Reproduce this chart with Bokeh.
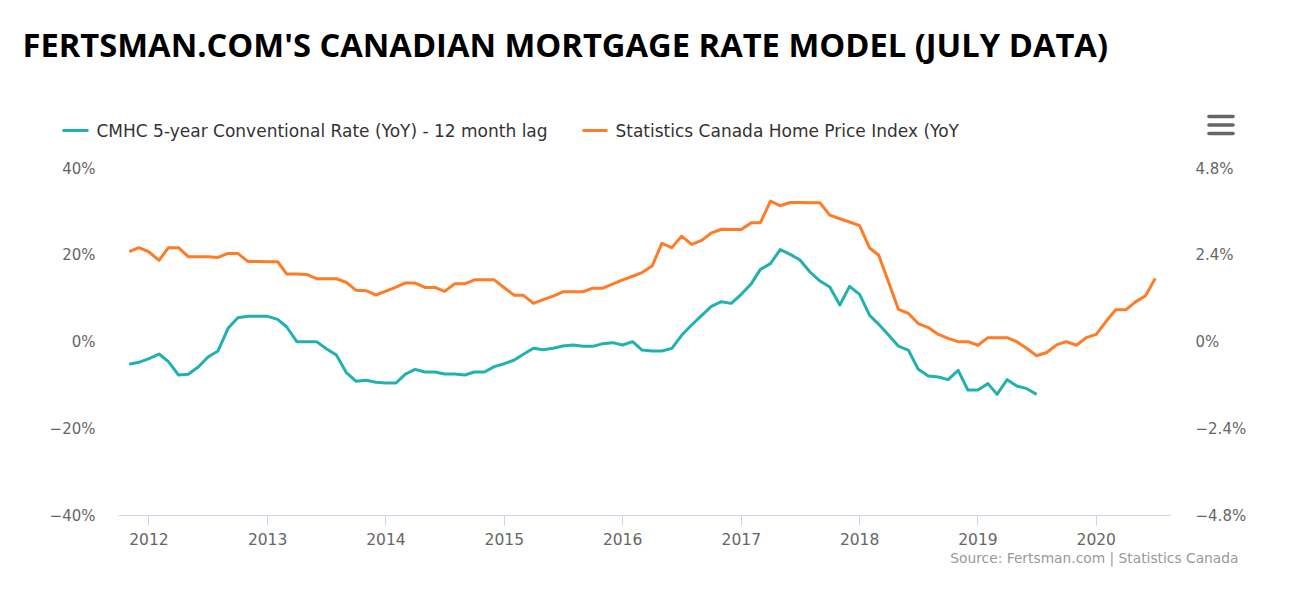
import pandas as pd
from bokeh.plotting import figure
from bokeh.layouts import column
from bokeh.models import (Range1d, LinearAxis, FixedTicker, CustomJSTickFormatter,
                          DatetimeTickFormatter, ColumnDataSource, Title)
from bokeh.core.properties import value
from bokeh.embed import file_html
from bokeh.resources import INLINE

# ---------------- data ----------------
series_start = "2011-11-01"
cmhc_name = "CMHC 5-year Conventional Rate (YoY) - 12 month lag"
cmhc_rate_yoy = [
    -5.15, -4.69,
    -3.84, -2.77, -4.53, -7.61, -7.45, -5.76, -3.46, -2.07, 3.15, 5.61, 5.92, 5.92,
    5.92, 5.23, 3.46, 0.08, 0.08, 0.08, -1.54, -3.00, -7.07, -9.07, -8.84, -9.30,
    -9.45, -9.45, -7.45, -6.30, -6.92, -6.92, -7.38, -7.38, -7.61, -6.92, -6.92, -5.69,
    -5.00, -4.15, -2.84, -1.46, -1.77, -1.46, -0.92, -0.69, -1.00, -1.00, -0.38, -0.15,
    -0.69, 0.08, -1.85, -2.07, -2.07, -1.46, 1.54, 3.92, 6.15, 8.22, 9.30, 8.91,
    10.99, 13.45, 16.75, 18.06, 21.29, 20.21, 18.91, 16.14, 14.06, 12.68, 8.53, 12.83,
    10.99, 6.15, 4.07, 1.54, -0.96, -1.92, -6.30, -7.84, -8.07, -8.68, -6.53, -11.07,
    -11.07, -9.60, -12.07, -8.68, -10.14, -10.76, -12.07,
]
hpi_name = "Statistics Canada Home Price Index (YoY"
hpi_yoy = [
    2.50, 2.61,
    2.49, 2.26, 2.61, 2.61, 2.36, 2.36, 2.36, 2.34, 2.45, 2.45, 2.23, 2.23,
    2.22, 2.22, 1.88, 1.88, 1.87, 1.75, 1.75, 1.75, 1.65, 1.43, 1.42, 1.30,
    1.41, 1.52, 1.63, 1.63, 1.51, 1.51, 1.40, 1.61, 1.61, 1.72, 1.72, 1.72,
    1.50, 1.29, 1.29, 1.07, 1.17, 1.27, 1.39, 1.39, 1.39, 1.49, 1.49, 1.60,
    1.72, 1.82, 1.92, 2.10, 2.73, 2.61, 2.93, 2.70, 2.81, 3.02, 3.12, 3.11,
    3.11, 3.30, 3.30, 3.90, 3.77, 3.86, 3.86, 3.85, 3.85, 3.51, 3.41, 3.32,
    3.22, 2.60, 2.40, 1.64, 0.90, 0.79, 0.51, 0.40, 0.21, 0.10, 0.01, 0.01,
    -0.09, 0.12, 0.12, 0.12, 0.01, -0.18, -0.38, -0.29, -0.08, 0.01, -0.09, 0.12,
    0.21, 0.58, 0.89, 0.89, 1.11, 1.28, 1.76,
]
year_ticks = [2012, 2013, 2014, 2015, 2016, 2017, 2018, 2019, 2020]
left_ticks = [-40, -20, 0, 20, 40]
right_ticks = [-4.8, -2.4, 0, 2.4, 4.8]

title_text = "FERTSMAN.COM'S CANADIAN MORTGAGE RATE MODEL (JULY DATA)"
source_text = "Source: Fertsman.com | Statistics Canada"

TEAL = "#21b1b1"
ORANGE = "#ff7b25"
FONT = "DejaVu Sans"
W = 1284
HH = 157

# ---------------- header (title, legend, menu icon) ----------------
h = figure(width=W, height=HH, output_backend="svg", toolbar_location=None,
           x_range=Range1d(0, W), y_range=Range1d(HH, 0),
           min_border=0, min_border_left=0, min_border_right=0,
           min_border_top=0, min_border_bottom=0)
h.axis.visible = False
h.grid.visible = False
h.outline_line_color = None

h.text(x=[22], y=[44], text=[title_text], text_font=value("Open Sans"),
       text_font_style="bold", text_font_size="32.7px", text_color="#000000",
       text_baseline="middle", text_align="left")
h.segment(x0=[62, 582], y0=[130, 130], x1=[88, 607], y1=[130, 130],
          line_color=[TEAL, ORANGE], line_width=3)
h.text(x=[96, 615], y=[130, 130], text=[cmhc_name, hpi_name], text_font=value(FONT),
       text_font_size="17px", text_color="#333333", text_baseline="middle",
       text_align="left")
h.segment(x0=[1208.5, 1208.5, 1208.5], y0=[116, 124.5, 133], x1=[1232.5, 1232.5, 1232.5],
          y1=[116, 124.5, 133], line_color="#666666", line_width=3.6, line_cap="round")

# ---------------- main chart ----------------
cmhc_src = ColumnDataSource(dict(
    x=pd.date_range(series_start, periods=len(cmhc_rate_yoy), freq="MS"), y=cmhc_rate_yoy))
hpi_src = ColumnDataSource(dict(
    x=pd.date_range(series_start, periods=len(hpi_yoy), freq="MS"), y=hpi_yoy))

p = figure(width=W, height=588 - HH, x_axis_type="datetime", output_backend="svg",
           toolbar_location=None,
           x_range=Range1d(pd.Timestamp("2011-09-29"), pd.Timestamp("2020-08-17")),
           y_range=Range1d(-40, 40),
           min_border_left=118, min_border_right=114, min_border_top=11, min_border_bottom=73)
p.extra_y_ranges = {"r": Range1d(-4.8, 4.8)}
p.outline_line_color = None
p.xgrid.visible = False
p.ygrid.visible = False

for fig in (h, p):
    try:
        fig.frame_align = False
    except AttributeError:
        pass

xa = p.xaxis[0]
xa.ticker = FixedTicker(ticks=[pd.Timestamp(f"{y}-01-01").value / 1e6 for y in year_ticks])
xa.formatter = DatetimeTickFormatter(years="%Y", months="%Y", days="%Y", hours="%Y")
xa.axis_line_color = "#ccd6eb"
xa.major_tick_line_color = "#ccd6eb"
xa.major_tick_out = 10
xa.major_tick_in = 0
xa.minor_tick_line_color = None
xa.major_label_text_color = "#666666"
xa.major_label_text_font = FONT
xa.major_label_text_font_size = "15.5px"
xa.major_label_standoff = 7

fmt = CustomJSTickFormatter(code="return (tick < 0 ? '\u2212' : '') + Math.abs(tick) + '%';")

ya = p.yaxis[0]
ya.ticker = FixedTicker(ticks=left_ticks)
ya.formatter = fmt
yr = LinearAxis(y_range_name="r", ticker=FixedTicker(ticks=right_ticks), formatter=fmt)
p.add_layout(yr, "right")
for ax in (ya, yr):
    ax.axis_line_color = None
    ax.major_tick_line_color = None
    ax.minor_tick_line_color = None
    ax.major_tick_out = 0
    ax.major_tick_in = 0
    ax.major_label_text_color = "#666666"
    ax.major_label_text_font = FONT
    ax.major_label_text_font_size = "15px"
ya.major_label_standoff = 23
yr.major_label_standoff = 25

p.line("x", "y", source=cmhc_src, color=TEAL, line_width=3, line_join="round")
p.line("x", "y", source=hpi_src, color=ORANGE, line_width=3, line_join="round",
       y_range_name="r")

p.add_layout(Title(text=source_text, align="right", offset=-68, standoff=1,
                   text_font=FONT, text_font_size="13.8px", text_color="#999999",
                   text_font_style="normal"), "below")

layout = column(h, p, spacing=0)
open("out.html", "w").write(file_html(layout, INLINE))
